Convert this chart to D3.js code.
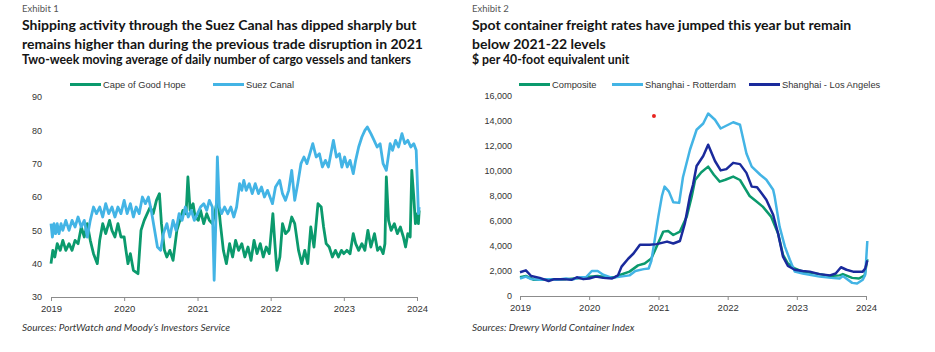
<!DOCTYPE html>
<html>
<head>
<meta charset="utf-8">
<script src="https://cdn.jsdelivr.net/npm/d3@7"></script>
<style>
  body { margin: 0; background: #fff; }
</style>
</head>
<body>
<svg id="chart" width="935" height="352"></svg>
<script>
// ---- data: Exhibit 1 (two-week moving avg, daily vessels) ----
const capeOfGoodHope = [
  ["2019-01-01",40],["2019-01-10",44],["2019-01-20",42],["2019-02-01",46],["2019-02-16",44],["2019-03-01",47],["2019-03-16",44],["2019-04-01",46],["2019-04-16",44],["2019-05-01",47],["2019-05-16",46],["2019-06-01",51],["2019-06-16",48],["2019-07-01",52],["2019-07-16",47],["2019-08-01",43],["2019-08-20",40],["2019-09-01",47],["2019-09-16",52],["2019-10-01",49],["2019-10-20",53],["2019-11-01",50],["2019-11-16",48],["2019-12-01",52],["2019-12-16",48],
  ["2020-01-01",48],["2020-01-10",44],["2020-01-20",40],["2020-02-01",43],["2020-02-16",38],["2020-03-10",37],["2020-03-25",50],["2020-04-10",53],["2020-04-25",55],["2020-05-10",57],["2020-05-25",55],["2020-06-10",59],["2020-06-25",61],["2020-07-05",52],["2020-07-20",44],["2020-08-01",42],["2020-08-16",44],["2020-09-01",41],["2020-09-20",50],["2020-10-05",53],["2020-10-20",56],["2020-11-05",55],["2020-11-14",66],["2020-11-25",56],["2020-12-10",58],["2020-12-20",54],
  ["2021-01-05",53],["2021-01-16",56],["2021-02-01",52],["2021-02-16",55],["2021-03-01",53],["2021-03-16",52],["2021-03-28",55],["2021-04-12",60],["2021-04-25",52],["2021-05-10",44],["2021-05-25",40],["2021-06-10",46],["2021-06-25",42],["2021-07-10",47],["2021-07-25",44],["2021-08-10",46],["2021-08-25",42],["2021-09-10",45],["2021-09-25",41],["2021-10-10",47],["2021-10-25",43],["2021-11-10",46],["2021-11-25",42],["2021-12-10",45],["2021-12-25",43],
  ["2022-01-12",55],["2022-01-22",46],["2022-02-01",38],["2022-02-16",42],["2022-03-01",52],["2022-03-16",49],["2022-04-01",50],["2022-04-16",54],["2022-05-01",52],["2022-05-20",44],["2022-06-05",40],["2022-06-20",44],["2022-07-05",40],["2022-07-20",51],["2022-08-05",45],["2022-08-25",58],["2022-09-10",57],["2022-09-22",51],["2022-10-05",46],["2022-10-20",45],["2022-11-05",42],["2022-11-20",44],["2022-12-05",42],["2022-12-20",44],
  ["2023-01-01",43],["2023-01-16",44],["2023-02-01",43],["2023-02-17",49],["2023-03-01",46],["2023-03-16",44],["2023-04-01",46],["2023-04-16",44],["2023-05-01",50],["2023-05-16",45],["2023-06-03",49],["2023-06-18",44],["2023-07-01",45],["2023-07-16",43],["2023-07-25",46],["2023-08-01",66],["2023-08-12",53],["2023-08-25",50],["2023-09-10",52],["2023-09-25",49],["2023-10-10",51],["2023-10-25",48],["2023-11-05",45],["2023-11-16",49],["2023-11-28",48],["2023-12-06",68],["2023-12-16",60],["2023-12-24",52],["2024-01-03",55],["2024-01-08",52],["2024-01-12",56]
];
const suezCanal = [
  ["2019-01-01",52],["2019-01-08",48],["2019-01-16",52],["2019-01-24",49],["2019-02-01",52],["2019-02-10",49],["2019-02-20",52],["2019-03-01",50],["2019-03-16",53],["2019-04-01",50],["2019-04-16",53],["2019-05-01",51],["2019-05-16",54],["2019-06-01",51],["2019-06-16",53],["2019-07-01",48],["2019-07-16",53],["2019-08-01",57],["2019-08-16",55],["2019-09-01",57],["2019-09-16",54],["2019-10-01",58],["2019-10-16",55],["2019-11-01",57],["2019-11-16",54],["2019-12-01",57],["2019-12-16",55],
  ["2020-01-01",59],["2020-01-16",55],["2020-02-01",58],["2020-02-16",54],["2020-03-01",57],["2020-03-16",55],["2020-04-01",60],["2020-04-16",58],["2020-05-01",60],["2020-05-15",56],["2020-06-01",50],["2020-06-15",45],["2020-07-01",44],["2020-07-15",49],["2020-08-01",52],["2020-08-16",48],["2020-09-01",53],["2020-09-16",50],["2020-10-01",55],["2020-10-16",53],["2020-11-01",57],["2020-11-16",54],["2020-12-01",56],["2020-12-16",53],
  ["2021-01-01",55],["2021-01-16",57],["2021-02-01",58],["2021-02-16",56],["2021-03-01",59],["2021-03-16",57],["2021-03-25",35],["2021-04-05",58],["2021-04-10",72],["2021-04-20",57],["2021-05-01",55],["2021-05-16",57],["2021-06-01",55],["2021-06-16",57],["2021-07-01",54],["2021-07-15",57],["2021-07-30",64],["2021-08-10",62],["2021-08-20",65],["2021-09-01",62],["2021-09-16",64],["2021-10-01",61],["2021-10-16",64],["2021-11-01",61],["2021-11-16",63],["2021-12-01",60],["2021-12-16",62],
  ["2022-01-10",58],["2022-01-25",63],["2022-02-15",65],["2022-03-01",61],["2022-03-16",59],["2022-04-01",62],["2022-04-16",68],["2022-05-01",59],["2022-05-16",64],["2022-06-01",70],["2022-06-16",72],["2022-07-01",70],["2022-07-30",76],["2022-08-16",72],["2022-09-01",73],["2022-09-16",69],["2022-10-01",71],["2022-10-16",69],["2022-11-10",77],["2022-11-25",72],["2022-12-10",73],["2022-12-22",69],
  ["2023-01-05",72],["2023-01-18",69],["2023-02-01",71],["2023-02-17",67],["2023-03-01",71],["2023-03-16",75],["2023-04-01",78],["2023-04-16",80],["2023-04-28",81],["2023-05-16",79],["2023-06-01",77],["2023-06-16",75],["2023-07-01",76],["2023-07-16",70],["2023-08-01",68],["2023-08-20",76],["2023-09-01",74],["2023-09-16",77],["2023-10-01",75],["2023-10-18",79],["2023-11-01",76],["2023-11-16",77],["2023-12-01",75],["2023-12-16",76],["2023-12-28",74],["2024-01-03",64],["2024-01-08",55],["2024-01-12",57]
];

// ---- data: Exhibit 2 (Drewry WCI, $ per FEU) ----
const composite = [
  ["2019-01-01",1500],["2019-02-01",1600],["2019-03-15",1300],["2019-05-01",1300],["2019-07-01",1350],["2019-09-01",1350],["2019-10-15",1400],["2019-12-01",1450],
  ["2020-01-01",1550],["2020-02-15",1600],["2020-04-01",1500],["2020-05-15",1500],["2020-06-15",1700],["2020-08-01",1950],["2020-09-15",2450],["2020-10-20",2600],["2020-11-24",3000],["2020-12-22",3950],
  ["2021-01-26",5150],["2021-02-21",5200],["2021-03-20",4880],["2021-04-24",5150],["2021-05-30",6350],["2021-06-25",7950],["2021-07-13",9280],["2021-08-15",9900],["2021-09-20",10350],["2021-10-20",9700],["2021-11-20",9150],["2021-12-20",9300],
  ["2022-01-30",9550],["2022-03-07",9280],["2022-04-27",8000],["2022-05-30",7600],["2022-07-05",7150],["2022-08-18",6350],["2022-09-24",5000],["2022-10-20",3300],["2022-11-15",2600],["2022-12-21",2200],
  ["2023-02-01",1950],["2023-05-01",1750],["2023-06-25",1600],["2023-08-15",1650],["2023-09-01",1750],["2023-10-20",1450],["2023-11-25",1400],["2023-12-25",1650],["2024-01-08",2950]
];
const shanghaiRotterdam = [
  ["2019-01-01",1400],["2019-02-01",1550],["2019-03-01",1350],["2019-04-15",1300],["2019-06-01",1350],["2019-07-15",1300],["2019-09-01",1400],["2019-10-01",1300],["2019-11-15",1500],["2019-12-15",1500],
  ["2020-01-15",2000],["2020-02-15",2000],["2020-03-15",1700],["2020-05-01",1450],["2020-06-15",1550],["2020-08-01",1650],["2020-09-01",2000],["2020-10-15",2150],["2020-11-10",2200],["2020-11-24",2800],["2020-12-12",4500],["2020-12-31",6350],
  ["2021-01-19",8000],["2021-02-02",8750],["2021-02-25",8350],["2021-03-20",7500],["2021-04-20",7450],["2021-05-10",9500],["2021-06-16",11700],["2021-07-21",13300],["2021-08-25",13800],["2021-09-20",14600],["2021-10-26",14100],["2021-11-25",13400],
  ["2022-01-30",13900],["2022-03-07",13700],["2022-04-10",11400],["2022-05-08",10350],["2022-06-22",9700],["2022-07-24",9300],["2022-08-29",8500],["2022-09-06",7950],["2022-10-02",5550],["2022-10-30",3950],["2022-11-25",2900],["2022-12-21",1950],
  ["2023-02-01",1800],["2023-05-01",1550],["2023-07-01",1450],["2023-08-15",1400],["2023-09-01",1600],["2023-10-20",1050],["2023-11-15",1000],["2023-12-15",1300],["2023-12-28",1700],["2024-01-08",4400]
];
const shanghaiLosAngeles = [
  ["2019-01-01",1900],["2019-02-01",2050],["2019-03-01",1600],["2019-04-15",1450],["2019-06-01",1200],["2019-07-01",1350],["2019-08-15",1350],["2019-10-01",1300],["2019-10-28",1500],["2019-12-01",1350],
  ["2020-01-01",1400],["2020-02-05",1550],["2020-03-15",1450],["2020-05-01",1400],["2020-06-01",1650],["2020-06-20",2350],["2020-07-26",3000],["2020-08-22",3400],["2020-09-25",4100],["2020-11-15",4100],["2020-12-22",4150],
  ["2021-02-15",4350],["2021-03-20",4200],["2021-04-24",4400],["2021-05-20",5800],["2021-06-16",8000],["2021-07-02",8900],["2021-07-21",10400],["2021-08-25",11200],["2021-09-20",12100],["2021-10-26",10800],["2021-11-25",10050],["2021-12-25",10150],
  ["2022-01-30",10650],["2022-03-07",10550],["2022-04-10",9850],["2022-05-08",8750],["2022-06-05",8700],["2022-06-30",8200],["2022-07-24",7700],["2022-08-29",6500],["2022-09-24",5000],["2022-10-20",3150],["2022-11-15",2400],["2022-12-21",2100],
  ["2023-02-01",2000],["2023-03-10",1950],["2023-05-01",1750],["2023-06-25",1650],["2023-07-25",1800],["2023-08-22",2300],["2023-09-20",2100],["2023-10-25",1950],["2023-12-15",1950],["2023-12-28",2200],["2024-01-08",2850]
];

// ticks
const yearTicks = ["2019", "2020", "2021", "2022", "2023", "2024"];
const leftYTicks = [30, 40, 50, 60, 70, 80, 90];
const rightYTicks = [0, 2000, 4000, 6000, 8000, 10000, 12000, 14000, 16000];

// odd red marker that sits on the second panel
const redMarker = [["2020-12-08", 14400]];

const parseDate = d3.timeParse("%Y-%m-%d");
const parseYear = d3.timeParse("%Y");

const GREEN = "#0b9a6d";
const LIGHT = "#43b4e5";
const NAVY = "#1a2a9c";
const HEAD_FONT = "Lato, 'Open Sans', sans-serif";
const AXIS_FONT = "'Liberation Sans', Arial, sans-serif";

const svg = d3.select("#chart");
svg.append("rect").attr("width", 935).attr("height", 352).attr("fill", "#fff");

function drawHeader(x, exhibit, titleLines, subtitle) {
  let g = svg.append("g").attr("font-family", HEAD_FONT);
  g.append("text").attr("x", x).attr("y", 12)
    .attr("font-size", 9.5).attr("fill", "#555").text(exhibit);
  titleLines.forEach((t, i) => {
    g.append("text").attr("x", x).attr("y", 29.5 + i * 19.5)
      .attr("font-size", 14).attr("font-weight", 700).attr("fill", "#141414").text(t);
  });
  g.append("text").attr("x", x).attr("y", 64)
    .attr("font-size", 12.3).attr("font-weight", 700).attr("fill", "#141414").text(subtitle);
}

function drawPanel(cfg) {
  const g = svg.append("g");

  const xScale = d3.scaleTime()
    .domain([parseYear("2019"), parseYear("2024")])
    .range(cfg.xRange);

  const yScale = d3.scaleLinear()
    .domain(cfg.yDomain)
    .range(cfg.yRange);

  // x-axis
  const xAxis = g.append("g")
    .attr("transform", `translate(0, ${cfg.yRange[0]})`)
    .call(d3.axisBottom(xScale)
      .tickValues(yearTicks.map(parseYear))
      .tickFormat(d3.timeFormat("%Y"))
      .tickSize(4)
      .tickSizeOuter(0)
      .tickPadding(4));
  xAxis.select(".domain").attr("stroke", "#8c8c8c");
  xAxis.selectAll(".tick line").attr("stroke", "#8c8c8c");
  xAxis.selectAll("text").attr("font-size", 9.5).attr("fill", "#333")
    .attr("font-family", AXIS_FONT);

  // y-axis (labels only)
  const yAxis = g.append("g")
    .attr("transform", `translate(${cfg.xRange[0]}, 0)`)
    .call(d3.axisLeft(yScale)
      .tickValues(cfg.yTicks)
      .tickFormat(cfg.yFormat)
      .tickSize(0)
      .tickPadding(cfg.yPad));
  yAxis.select(".domain").remove();
  yAxis.selectAll("text").attr("font-size", 9).attr("fill", "#333")
    .attr("font-family", AXIS_FONT);

  const lineGenerator = d3.line()
    .x((d) => xScale(parseDate(d[0])))
    .y((d) => yScale(d[1]));

  g.append("g").selectAll("path")
    .data(cfg.series)
    .join("path")
    .attr("fill", "none")
    .attr("stroke", (d) => d.color)
    .attr("stroke-width", cfg.strokeWidth)
    .attr("stroke-linejoin", "round")
    .attr("d", (d) => lineGenerator(d.values));

  // legend
  const legend = g.append("g");
  cfg.series.forEach((s, i) => {
    const lx = cfg.legendX[i];
    legend.append("line")
      .attr("x1", lx).attr("x2", lx + 31)
      .attr("y1", 84.5).attr("y2", 84.5)
      .attr("stroke", s.color).attr("stroke-width", 3);
    legend.append("text")
      .attr("x", lx + 33).attr("y", 88)
      .attr("font-size", 9.3).attr("fill", "#333")
      .attr("font-family", AXIS_FONT)
      .text(s.name);
  });

  // sources
  g.append("text")
    .attr("x", cfg.textX).attr("y", 331)
    .attr("font-size", 10).attr("font-style", "italic").attr("fill", "#333")
    .attr("font-family", HEAD_FONT)
    .text(cfg.source);

  return { xScale, yScale, g };
}

drawHeader(22, "Exhibit 1",
  ["Shipping activity through the Suez Canal has dipped sharply but",
   "remains higher than during the previous trade disruption in 2021"],
  "Two-week moving average of daily number of cargo vessels and tankers");

drawPanel({
  xRange: [51, 417],
  yDomain: [30, 90],
  yRange: [297, 97],
  yTicks: leftYTicks,
  yFormat: d3.format("d"),
  yPad: 9,
  strokeWidth: 2.8,
  legendX: [70, 213],
  textX: 22,
  source: "Sources: PortWatch and Moody\u2019s Investors Service",
  series: [
    { name: "Cape of Good Hope", color: GREEN, values: capeOfGoodHope },
    { name: "Suez Canal", color: LIGHT, values: suezCanal }
  ]
});

drawHeader(472, "Exhibit 2",
  ["Spot container freight rates have jumped this year but remain",
   "below 2021-22 levels"],
  "$ per 40-foot equivalent unit");

const right = drawPanel({
  xRange: [520, 866],
  yDomain: [0, 16000],
  yRange: [296, 96],
  yTicks: rightYTicks,
  yFormat: d3.format(","),
  yPad: 8,
  strokeWidth: 2.5,
  legendX: [519, 612, 749],
  textX: 472,
  source: "Sources: Drewry World Container Index",
  series: [
    { name: "Composite", color: GREEN, values: composite },
    { name: "Shanghai - Rotterdam", color: LIGHT, values: shanghaiRotterdam },
    { name: "Shanghai - Los Angeles", color: NAVY, values: shanghaiLosAngeles }
  ]
});

right.g.selectAll(".marker")
  .data(redMarker)
  .join("circle")
  .attr("cx", (d) => right.xScale(parseDate(d[0])))
  .attr("cy", (d) => right.yScale(d[1]))
  .attr("r", 2)
  .attr("fill", "#e8231f");
</script>
</body>
</html>
